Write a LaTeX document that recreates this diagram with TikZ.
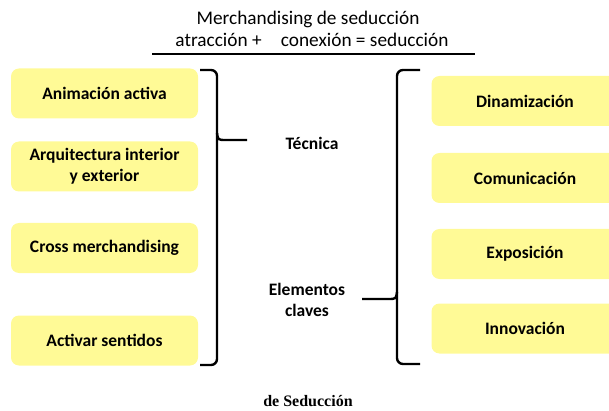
\documentclass[tikz,border=0pt]{standalone}
\usepackage{fontspec}
\setmainfont{Carlito}
\newfontfamily\serifbold{Liberation Serif}
\definecolor{boxyellow}{RGB}{255,250,150}
\begin{document}
\begin{tikzpicture}[x=1pt,y=-1pt,
  ybox/.style={fill=boxyellow,draw=none,rounded corners=8pt,minimum width=187pt,minimum height=50pt,align=center,font=\fontsize{17.5}{21}\selectfont\bfseries,inner sep=0pt},
  lbl/.style={font=\fontsize{17.5}{20.5}\selectfont\bfseries,align=center},
  bracep/.style={line width=2.4pt,rounded corners=6pt}]
\useasboundingbox (0,0) rectangle (609,411);
% title
\node[font=\fontsize{19.3}{22}\selectfont] (t1) at (308,19) {Merchandising de seducción};
\node[font=\fontsize{19.3}{22}\selectfont] (t2) at (312,40) {atracción +\quad conexión = seducción};
\coordinate (rl) at (152,54);
\coordinate (rr) at (475,54);
\draw[line width=2pt] (rl) -- (rr);
% left boxes
\node[ybox] (a1) at (104.5,93.5) {Animación activa};
\node[ybox] (a2) at (104.5,166.5) {Arquitectura interior\\y exterior};
\node[ybox] (a3) at (104.5,248) {Cross merchandising};
\node[ybox] (a4) at (104.5,340.5) {Activar sentidos};
% right boxes
\node[ybox] (b1) at (525,101) {Dinamización};
\node[ybox] (b2) at (525,178) {Comunicación};
\node[ybox] (b3) at (525,254) {Exposición};
\node[ybox] (b4) at (525,328.5) {Innovación};
% labels
\node[lbl] (tec) at (312,143) {Técnica};
\node[lbl] (ele) at (307,300) {Elementos\\claves};
% left brace
\coordinate (lt) at (200,70);
\coordinate (lb) at (200,365);
\coordinate (ltip) at (247,140);
\draw[bracep] (lt) -- (217,70) -- (217,365) -- (lb);
\draw[line width=2.4pt] (217,133) .. controls (218,140) .. (226,140) -- (ltip);
% right brace
\coordinate (rt) at (420,70);
\coordinate (rb) at (420,364);
\coordinate (rtip) at (362,299);
\draw[bracep] (rt) -- (397,70) -- (397,364) -- (rb);
\draw[line width=2.4pt] (397,292) .. controls (396,299) .. (388,299) -- (rtip);
% caption
\node[font=\fontsize{16}{18}\selectfont\serifbold\bfseries,inner sep=1pt] (cap) at (308,401) {de Seducción};
\end{tikzpicture}
\end{document}
